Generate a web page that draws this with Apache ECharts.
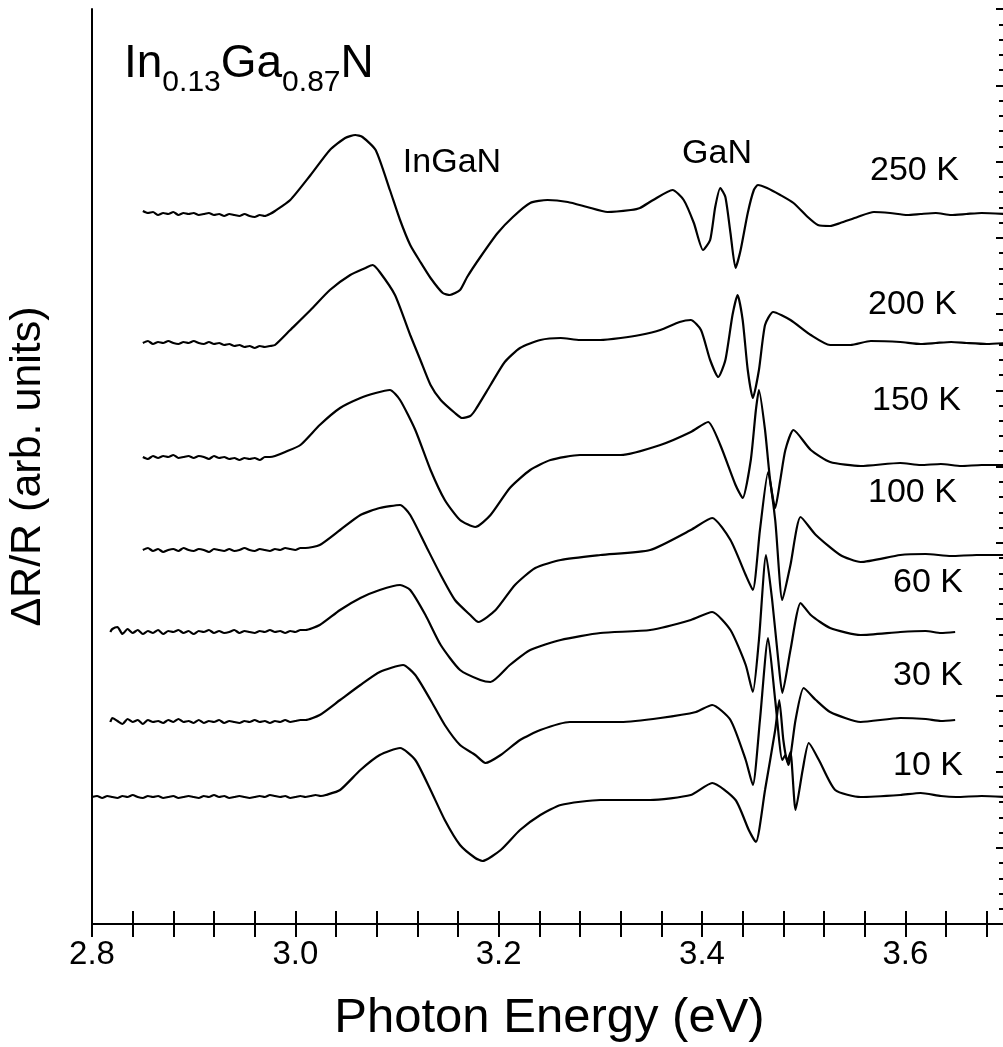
<!DOCTYPE html>
<html>
<head>
<meta charset="utf-8">
<script src="https://cdn.jsdelivr.net/npm/echarts@6/dist/echarts.min.js"></script>
<style>
html, body { margin: 0; padding: 0; background: #fff; }
#chart { width: 1003px; height: 1047px; }
</style>
</head>
<body>
<div id="chart"></div>
<script>
// spectra: [photon energy (eV), dR/R relative to its own baseline (arb. units)]
const t250 = [
  [2.850,3],[2.855,1],[2.860,2],[2.865,-1],[2.870,1],[2.875,0],[2.880,2],[2.885,-1],[2.890,1],[2.895,0],
  [2.900,1],[2.905,-1],[2.910,0],[2.915,1],[2.920,-1],[2.925,0],[2.930,-2],[2.935,0],[2.940,-1],[2.945,-2],
  [2.950,0],[2.955,-2],[2.960,-3],[2.965,-1],[2.970,-2],[2.975,0],
  [2.980,3],[2.995,14],[3.015,39],[3.034,64],[3.049,76],[3.059,79],[3.066,77],[3.079,64],
  [3.093,24],[3.103,-6],[3.113,-31],[3.123,-48],[3.133,-64],[3.145,-79],[3.152,-81],[3.162,-76],[3.169,-63],[3.182,-43],
  [3.199,-19],[3.214,-3],[3.231,11],[3.248,14],[3.268,12],[3.287,7],[3.307,2],[3.330,4],[3.339,6],[3.352,14],
  [3.371,24],[3.382,14],[3.392,-9],[3.401,-36],[3.408,-26],[3.413,7],[3.418,26],[3.423,17],[3.428,-19],[3.433,-54],
  [3.438,-36],[3.445,1],[3.451,24],[3.455,29],[3.464,26],[3.477,19],[3.490,11],[3.504,-3],[3.514,-11],[3.526,-12],
  [3.536,-9],[3.553,-3],[3.569,2],[3.585,1],[3.602,-1],[3.615,0],[3.630,1],[3.645,-1],[3.660,0],[3.675,1],[3.700,0]
]
const t200 = [
  [2.850,0],[2.855,2],[2.860,-1],[2.865,1],[2.870,0],[2.875,2],[2.880,0],[2.885,-1],[2.890,1],[2.895,0],
  [2.900,2],[2.905,0],[2.910,-1],[2.915,1],[2.920,-1],[2.925,0],[2.930,-2],[2.935,-1],[2.940,-3],[2.945,-2],
  [2.950,-4],[2.955,-3],[2.960,-5],[2.965,-3],[2.970,-4],[2.975,-3],
  [2.980,-2],[2.995,13],[3.015,33],[3.034,53],[3.054,68],[3.069,75],[3.076,78],[3.083,71],
  [3.098,48],[3.113,8],[3.123,-17],[3.133,-42],[3.143,-57],[3.157,-70],[3.164,-75],[3.172,-73],[3.177,-67],[3.192,-42],
  [3.206,-19],[3.221,-5],[3.241,3],[3.261,5],[3.280,3],[3.300,3],[3.320,5],[3.339,8],[3.359,13],[3.378,21],
  [3.389,23],[3.399,13],[3.408,-17],[3.416,-34],[3.423,-17],[3.430,28],[3.435,48],[3.440,23],[3.445,-27],[3.450,-55],
  [3.456,-27],[3.462,18],[3.470,31],[3.487,23],[3.507,8],[3.526,-2],[3.546,-2],[3.566,2],[3.595,1],[3.615,-1],
  [3.630,0],[3.645,1],[3.660,0],[3.680,-1],[3.700,0]
]
const t150 = [
  [2.850,0],[2.855,-2],[2.860,1],[2.865,-1],[2.870,1],[2.875,0],[2.880,2],[2.885,-1],[2.890,0],[2.895,1],
  [2.900,-1],[2.905,1],[2.910,0],[2.915,-2],[2.920,1],[2.925,-1],[2.930,0],[2.935,-2],[2.940,-1],[2.945,-3],
  [2.950,-1],[2.955,-2],[2.960,-1],[2.965,-3],[2.970,0],[2.975,0],[2.980,1],
  [2.990,5],[3.005,12],[3.024,32],[3.044,49],[3.064,59],[3.079,64],[3.093,67],[3.103,57],
  [3.118,27],[3.133,-13],[3.147,-43],[3.162,-63],[3.177,-70],[3.192,-58],[3.211,-31],[3.231,-13],[3.251,-3],[3.280,2],
  [3.320,2],[3.359,12],[3.389,25],[3.406,35],[3.418,12],[3.433,-28],[3.440,-41],[3.448,-3],[3.453,47],[3.456,67],
  [3.462,27],[3.467,-23],[3.472,-51],[3.477,-23],[3.482,7],[3.490,27],[3.507,7],[3.526,-5],[3.556,-9],[3.595,-6],
  [3.615,-8],[3.635,-7],[3.655,-9],[3.675,-8],[3.700,-8]
]
const t100 = [
  [2.850,0],[2.855,2],[2.860,-1],[2.865,1],[2.870,-2],[2.875,0],[2.880,1],[2.885,-1],[2.890,2],[2.895,0],
  [2.900,-1],[2.905,1],[2.910,0],[2.915,-2],[2.920,1],[2.925,0],[2.930,-1],[2.935,1],[2.940,-1],[2.945,0],
  [2.950,2],[2.955,0],[2.960,-1],[2.965,1],[2.970,0],[2.975,-1],[2.980,1],[2.985,0],[2.990,2],[2.995,1],
  [3.000,0],[3.005,2],
  [3.010,2],[3.024,5],[3.044,20],[3.064,35],[3.083,42],[3.103,45],[3.113,35],
  [3.128,5],[3.143,-25],[3.157,-50],[3.172,-65],[3.180,-72],[3.197,-60],[3.216,-35],[3.236,-18],[3.261,-10],[3.300,-5],
  [3.349,0],[3.389,20],[3.410,32],[3.428,10],[3.443,-25],[3.450,-40],[3.457,20],[3.465,78],[3.472,30],[3.479,-50],
  [3.487,-15],[3.497,33],[3.512,15],[3.536,-5],[3.556,-12],[3.595,-5],[3.620,-4],[3.645,-6],[3.670,-5],[3.700,-5]
]
const t60 = [
  [2.818,0],[2.820,3],[2.825,5],[2.830,-2],[2.835,3],[2.840,-1],[2.845,2],[2.850,-2],[2.855,1],[2.860,-1],
  [2.865,2],[2.870,-2],[2.875,1],[2.880,0],[2.885,2],[2.890,-1],[2.895,1],[2.900,-2],[2.905,1],[2.910,0],
  [2.915,2],[2.920,-1],[2.925,1],[2.930,-1],[2.935,0],[2.940,2],[2.945,-1],[2.950,1],[2.955,0],[2.960,-1],
  [2.965,1],[2.970,0],[2.975,2],[2.980,0],[2.985,1],[2.990,-1],[2.995,1],[3.000,0],[3.005,2],
  [3.010,2],[3.024,7],[3.044,22],
  [3.064,34],[3.083,42],[3.103,47],[3.113,42],[3.128,17],[3.143,-13],[3.162,-38],[3.182,-48],[3.192,-50],[3.211,-33],
  [3.231,-18],[3.261,-8],[3.300,-1],[3.349,2],[3.389,12],[3.410,20],[3.428,2],[3.443,-33],[3.450,-60],[3.456,-8],
  [3.463,77],[3.469,32],[3.475,-28],[3.479,-61],[3.487,-18],[3.497,29],[3.507,17],[3.526,4],[3.556,-3],[3.595,0],
  [3.620,1],[3.635,-1],[3.649,0]
]
const t30 = [
  [2.818,0],[2.820,4],[2.825,1],[2.830,-2],[2.835,3],[2.840,0],[2.845,2],[2.850,-2],[2.855,2],[2.860,0],
  [2.865,1],[2.870,-1],[2.875,2],[2.880,0],[2.885,3],[2.890,0],[2.895,1],[2.900,-1],[2.905,2],[2.910,-1],
  [2.915,1],[2.920,0],[2.925,2],[2.930,-1],[2.935,1],[2.940,0],[2.945,-1],[2.950,1],[2.955,0],[2.960,2],
  [2.965,0],[2.970,1],[2.975,-1],[2.980,1],[2.985,0],[2.990,2],[2.995,0],[3.000,1],[3.005,2],
  [3.010,2],[3.024,7],[3.044,22],
  [3.064,37],[3.083,50],[3.106,57],[3.118,47],[3.133,22],[3.147,-3],[3.162,-23],[3.177,-33],[3.187,-41],[3.202,-33],
  [3.221,-18],[3.241,-8],[3.270,0],[3.320,0],[3.359,4],[3.394,10],[3.410,17],[3.428,2],[3.443,-38],[3.450,-63],
  [3.457,2],[3.465,84],[3.472,22],[3.479,-38],[3.482,-33],[3.485,-43],[3.492,2],[3.500,34],[3.512,22],[3.526,10],
  [3.556,0],[3.595,4],[3.620,3],[3.635,1],[3.649,2]
]
const t10 = [
  [2.800,0],[2.805,1],[2.810,-1],[2.815,1],[2.820,0],[2.825,-1],[2.830,1],[2.835,0],[2.840,2],[2.845,0],
  [2.850,-1],[2.855,1],[2.860,0],[2.865,1],[2.870,-1],[2.875,0],[2.880,1],[2.885,-1],[2.890,0],[2.895,1],
  [2.900,0],[2.905,-1],[2.910,1],[2.915,0],[2.920,2],[2.925,0],[2.930,1],[2.935,-1],[2.940,0],[2.945,1],
  [2.950,0],[2.955,-1],[2.960,0],[2.965,1],[2.970,0],[2.975,2],[2.980,1],[2.985,0],[2.990,1],[2.995,-1],
  [3.000,0],[3.005,1],[3.010,0],[3.015,1],[3.020,2],[3.025,1],
  [3.030,2],[3.044,7],[3.064,27],
  [3.083,42],[3.103,49],[3.118,37],[3.133,7],[3.147,-23],[3.162,-48],[3.177,-61],[3.184,-64],[3.202,-53],[3.221,-33],
  [3.241,-18],[3.261,-8],[3.300,-3],[3.349,-3],[3.389,2],[3.410,14],[3.433,-3],[3.446,-33],[3.453,-45],[3.462,7],
  [3.472,67],[3.476,97],[3.480,57],[3.484,35],[3.487,45],[3.492,-13],[3.499,27],[3.505,54],[3.515,37],[3.531,7],
  [3.556,0],[3.595,2],[3.615,4],[3.635,1],[3.650,0],[3.675,1],[3.700,0]
]

const temps = ['250 K', '200 K', '150 K', '100 K', '60 K', '30 K', '10 K']
const spectra = [t250, t200, t150, t100, t60, t30, t10]
// vertical shift of each spectrum (arb. units)
const offsets = [710, 581, 467, 374, 292, 202, 127]
const xTickLabels = ['2.8', '3.0', '3.2', '3.4', '3.6']

const FONT = '"Liberation Sans", Arial, Helvetica, sans-serif'
const black = '#000'

const chart = echarts.init(document.getElementById('chart'), null, { renderer: 'canvas' })

function tickLabel(v) {
  const t = v.toFixed(1)
  if (Math.abs(v - Number(t)) < 1e-6 && xTickLabels.includes(t)) return t
  return ''
}

const axisLine = { show: true, lineStyle: { color: black, width: 2 } }
const xTick = { show: true, inside: true, length: 13, lineStyle: { color: black, width: 2 } }

// label positions (pixels)
const tempLabelPos = [[870, 171], [868, 305], [872, 401], [868, 493], [893, 583], [893, 676], [893, 766]]

const graphics = [
  {
    type: 'text', x: 124, y: 24,
    style: {
      text: '{m|In}{s|0.13}{m|Ga}{s|0.87}{m|N}',
      verticalAlign: 'top',
      rich: {
        m: { fontSize: 46, fontFamily: FONT, lineHeight: 80, fill: black },
        s: { fontSize: 30, fontFamily: FONT, padding: [38, 0, 0, 0], fill: black }
      }
    }
  },
  { type: 'text', x: 452, y: 163, style: { text: 'InGaN', font: '34px ' + FONT, fill: black, align: 'center', verticalAlign: 'middle' } },
  { type: 'text', x: 717, y: 154, style: { text: 'GaN', font: '34px ' + FONT, fill: black, align: 'center', verticalAlign: 'middle' } }
]
temps.forEach((t, i) => {
  graphics.push({
    type: 'text', x: tempLabelPos[i][0], y: tempLabelPos[i][1],
    style: { text: t, font: '34px ' + FONT, fill: black, align: 'left', verticalAlign: 'middle' }
  })
})

chart.setOption({
  animation: false,
  backgroundColor: '#fff',
  grid: { left: 92, right: -4, top: 9, bottom: 123, containLabel: false, outerBoundsMode: 'none' },
  xAxis: [
    {
      type: 'value', position: 'bottom', min: 2.8, max: 3.7, interval: 0.04,
      axisLine, axisTick: xTick, splitLine: { show: false },
      axisLabel: { formatter: tickLabel, margin: 14, color: black, fontSize: 33, fontFamily: FONT },
      name: 'Photon Energy (eV)', nameLocation: 'middle', nameGap: 70,
      nameTextStyle: { color: black, fontSize: 49, fontFamily: FONT }
    },
    {
      type: 'value', position: 'top', min: 2.8, max: 3.7, interval: 0.04,
      axisLine, axisTick: xTick, splitLine: { show: false }, axisLabel: { show: false }
    }
  ],
  yAxis: [
    {
      type: 'value', position: 'left', min: 0, max: 915,
      axisLine, axisTick: { show: false }, axisLabel: { show: false }, splitLine: { show: false },
      name: 'ΔR/R (arb. units)', nameLocation: 'middle', nameGap: 42, nameRotate: 90,
      nameTextStyle: { color: black, fontSize: 43, fontFamily: FONT }
    },
    {
      type: 'value', position: 'right', min: 0, max: 60, interval: 5,
      axisLine, axisLabel: { show: false }, splitLine: { show: false },
      axisTick: { show: true, inside: true, length: 11, lineStyle: { color: black, width: 2 } },
      minorTick: { show: true, splitNumber: 5, length: 8, lineStyle: { color: black, width: 2 } }
    }
  ],
  graphic: graphics,
  series: spectra.map((s, i) => ({
    name: temps[i],
    type: 'line',
    xAxisIndex: 0,
    yAxisIndex: 0,
    showSymbol: false,
    symbol: 'none',
    clip: true,
    smooth: 0.2,
    lineStyle: { color: black, width: 2.2 },
    data: s.map(p => [p[0], offsets[i] + p[1]])
  }))
})
</script>
</body>
</html>
